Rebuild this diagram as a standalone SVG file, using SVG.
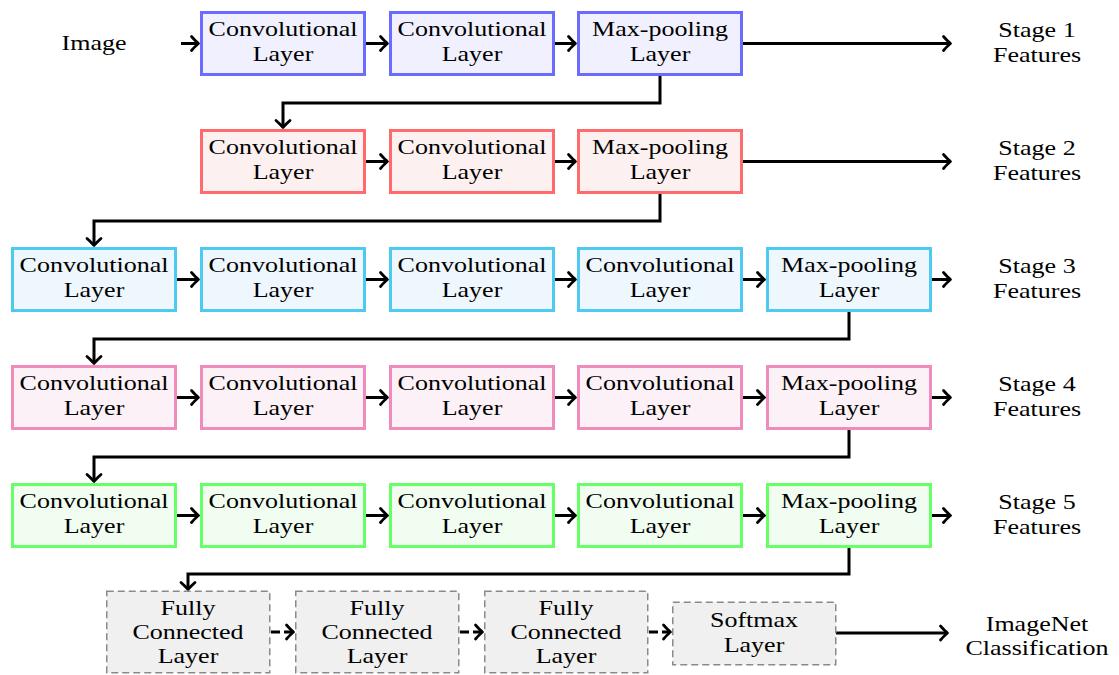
<svg xmlns="http://www.w3.org/2000/svg" width="1119" height="675" viewBox="0 0 1119 675">
<style>
.t{font-family:"Liberation Serif","Times New Roman",serif;font-size:21.5px;fill:#000;text-anchor:middle}
.b1{fill:#f0f0ff;stroke:#6b6bff;stroke-width:3}
.b2{fill:#fdf0f0;stroke:#ff6b6b;stroke-width:3}
.b3{fill:#eef7fd;stroke:#4ec9f2;stroke-width:3}
.b4{fill:#fcf1f6;stroke:#f08cbc;stroke-width:3}
.b5{fill:#f1fdf1;stroke:#66ff66;stroke-width:3}
.b6{fill:#f0f0f0;stroke:#8a8a8a;stroke-width:1.5;stroke-dasharray:7 4}
.c{fill:none;stroke:#000;stroke-width:3;marker-end:url(#ah)}
.cd{fill:none;stroke:#000;stroke-width:3;stroke-dasharray:9 4;marker-end:url(#ah)}
</style>
<defs>
<marker id="ah" markerUnits="userSpaceOnUse" viewBox="-10 -10 12 20" refX="0" refY="0" markerWidth="12" markerHeight="20" orient="auto" overflow="visible">
<path d="M-6.5,-7 Q-1.5,-1.5 0.5,0 Q-1.5,1.5 -6.5,7" fill="none" stroke="#000" stroke-width="2.8" stroke-linecap="round" stroke-linejoin="round"/>
</marker>
</defs>
<rect width="1119" height="675" fill="#fff"/>

<g id="connectors">
<path class="c" d="M181 43.5H198"/>
<path class="c" d="M366 43.5H387"/>
<path class="c" d="M555 43.5H575"/>
<path class="c" d="M743 43.5H950"/>
<path class="c" d="M660 76V103H283V127"/>
<path class="c" d="M366 161.5H387"/>
<path class="c" d="M555 161.5H575"/>
<path class="c" d="M743 161.5H950"/>
<path class="c" d="M660 194V221H94V245"/>
<path class="c" d="M177 279.5H198"/>
<path class="c" d="M366 279.5H387"/>
<path class="c" d="M555 279.5H575"/>
<path class="c" d="M743 279.5H764"/>
<path class="c" d="M932 279.5H950"/>
<path class="c" d="M849 312V339H94V363"/>
<path class="c" d="M177 397.5H198"/>
<path class="c" d="M366 397.5H387"/>
<path class="c" d="M555 397.5H575"/>
<path class="c" d="M743 397.5H764"/>
<path class="c" d="M932 397.5H950"/>
<path class="c" d="M849 430V457H94V481"/>
<path class="c" d="M177 515.5H198"/>
<path class="c" d="M366 515.5H387"/>
<path class="c" d="M555 515.5H575"/>
<path class="c" d="M743 515.5H764"/>
<path class="c" d="M932 515.5H950"/>
<path class="c" d="M849 548V574H188V589"/>
<path class="cd" d="M271 632H293"/>
<path class="cd" d="M460 632H482"/>
<path class="cd" d="M649 632H670"/>
<path class="c" d="M836 633H947"/>
</g>

<g id="image"><text class="t" transform="translate(94 0) scale(1.21 1)"><tspan x="0" y="50">Image</tspan></text></g>

<g id="r1c1"><rect class="b1" x="201.5" y="12.5" width="163" height="62"/><text class="t" transform="translate(283 0) scale(1.21 1)"><tspan x="0" y="36">Convolutional</tspan><tspan x="0" y="61">Layer</tspan></text></g>
<g id="r1c2"><rect class="b1" x="390.5" y="12.5" width="163" height="62"/><text class="t" transform="translate(472 0) scale(1.21 1)"><tspan x="0" y="36">Convolutional</tspan><tspan x="0" y="61">Layer</tspan></text></g>
<g id="r1c3"><rect class="b1" x="578.5" y="12.5" width="163" height="62"/><text class="t" transform="translate(660 0) scale(1.21 1)"><tspan x="0" y="36">Max-pooling</tspan><tspan x="0" y="61">Layer</tspan></text></g>
<g id="stage1"><text class="t" transform="translate(1037 0) scale(1.21 1)"><tspan x="0" y="37">Stage 1</tspan><tspan x="0" y="62">Features</tspan></text></g>

<g id="r2c1"><rect class="b2" x="201.5" y="130.5" width="163" height="62"/><text class="t" transform="translate(283 0) scale(1.21 1)"><tspan x="0" y="154">Convolutional</tspan><tspan x="0" y="179">Layer</tspan></text></g>
<g id="r2c2"><rect class="b2" x="390.5" y="130.5" width="163" height="62"/><text class="t" transform="translate(472 0) scale(1.21 1)"><tspan x="0" y="154">Convolutional</tspan><tspan x="0" y="179">Layer</tspan></text></g>
<g id="r2c3"><rect class="b2" x="578.5" y="130.5" width="163" height="62"/><text class="t" transform="translate(660 0) scale(1.21 1)"><tspan x="0" y="154">Max-pooling</tspan><tspan x="0" y="179">Layer</tspan></text></g>
<g id="stage2"><text class="t" transform="translate(1037 0) scale(1.21 1)"><tspan x="0" y="155">Stage 2</tspan><tspan x="0" y="180">Features</tspan></text></g>

<g id="r3c0"><rect class="b3" x="12.5" y="248.5" width="163" height="62"/><text class="t" transform="translate(94 0) scale(1.21 1)"><tspan x="0" y="272">Convolutional</tspan><tspan x="0" y="297">Layer</tspan></text></g>
<g id="r3c1"><rect class="b3" x="201.5" y="248.5" width="163" height="62"/><text class="t" transform="translate(283 0) scale(1.21 1)"><tspan x="0" y="272">Convolutional</tspan><tspan x="0" y="297">Layer</tspan></text></g>
<g id="r3c2"><rect class="b3" x="390.5" y="248.5" width="163" height="62"/><text class="t" transform="translate(472 0) scale(1.21 1)"><tspan x="0" y="272">Convolutional</tspan><tspan x="0" y="297">Layer</tspan></text></g>
<g id="r3c3"><rect class="b3" x="578.5" y="248.5" width="163" height="62"/><text class="t" transform="translate(660 0) scale(1.21 1)"><tspan x="0" y="272">Convolutional</tspan><tspan x="0" y="297">Layer</tspan></text></g>
<g id="r3c4"><rect class="b3" x="767.5" y="248.5" width="163" height="62"/><text class="t" transform="translate(849 0) scale(1.21 1)"><tspan x="0" y="272">Max-pooling</tspan><tspan x="0" y="297">Layer</tspan></text></g>
<g id="stage3"><text class="t" transform="translate(1037 0) scale(1.21 1)"><tspan x="0" y="273">Stage 3</tspan><tspan x="0" y="298">Features</tspan></text></g>

<g id="r4c0"><rect class="b4" x="12.5" y="366.5" width="163" height="62"/><text class="t" transform="translate(94 0) scale(1.21 1)"><tspan x="0" y="390">Convolutional</tspan><tspan x="0" y="415">Layer</tspan></text></g>
<g id="r4c1"><rect class="b4" x="201.5" y="366.5" width="163" height="62"/><text class="t" transform="translate(283 0) scale(1.21 1)"><tspan x="0" y="390">Convolutional</tspan><tspan x="0" y="415">Layer</tspan></text></g>
<g id="r4c2"><rect class="b4" x="390.5" y="366.5" width="163" height="62"/><text class="t" transform="translate(472 0) scale(1.21 1)"><tspan x="0" y="390">Convolutional</tspan><tspan x="0" y="415">Layer</tspan></text></g>
<g id="r4c3"><rect class="b4" x="578.5" y="366.5" width="163" height="62"/><text class="t" transform="translate(660 0) scale(1.21 1)"><tspan x="0" y="390">Convolutional</tspan><tspan x="0" y="415">Layer</tspan></text></g>
<g id="r4c4"><rect class="b4" x="767.5" y="366.5" width="163" height="62"/><text class="t" transform="translate(849 0) scale(1.21 1)"><tspan x="0" y="390">Max-pooling</tspan><tspan x="0" y="415">Layer</tspan></text></g>
<g id="stage4"><text class="t" transform="translate(1037 0) scale(1.21 1)"><tspan x="0" y="391">Stage 4</tspan><tspan x="0" y="416">Features</tspan></text></g>

<g id="r5c0"><rect class="b5" x="12.5" y="484.5" width="163" height="62"/><text class="t" transform="translate(94 0) scale(1.21 1)"><tspan x="0" y="508">Convolutional</tspan><tspan x="0" y="533">Layer</tspan></text></g>
<g id="r5c1"><rect class="b5" x="201.5" y="484.5" width="163" height="62"/><text class="t" transform="translate(283 0) scale(1.21 1)"><tspan x="0" y="508">Convolutional</tspan><tspan x="0" y="533">Layer</tspan></text></g>
<g id="r5c2"><rect class="b5" x="390.5" y="484.5" width="163" height="62"/><text class="t" transform="translate(472 0) scale(1.21 1)"><tspan x="0" y="508">Convolutional</tspan><tspan x="0" y="533">Layer</tspan></text></g>
<g id="r5c3"><rect class="b5" x="578.5" y="484.5" width="163" height="62"/><text class="t" transform="translate(660 0) scale(1.21 1)"><tspan x="0" y="508">Convolutional</tspan><tspan x="0" y="533">Layer</tspan></text></g>
<g id="r5c4"><rect class="b5" x="767.5" y="484.5" width="163" height="62"/><text class="t" transform="translate(849 0) scale(1.21 1)"><tspan x="0" y="508">Max-pooling</tspan><tspan x="0" y="533">Layer</tspan></text></g>
<g id="stage5"><text class="t" transform="translate(1037 0) scale(1.21 1)"><tspan x="0" y="509">Stage 5</tspan><tspan x="0" y="534">Features</tspan></text></g>

<g id="fc1"><rect class="b6" x="106.75" y="591.25" width="163" height="81.5"/><text class="t" transform="translate(188 0) scale(1.21 1)"><tspan x="0" y="615">Fully</tspan><tspan x="0" y="639">Connected</tspan><tspan x="0" y="663">Layer</tspan></text></g>
<g id="fc2"><rect class="b6" x="295.75" y="591.25" width="163" height="81.5"/><text class="t" transform="translate(377 0) scale(1.21 1)"><tspan x="0" y="615">Fully</tspan><tspan x="0" y="639">Connected</tspan><tspan x="0" y="663">Layer</tspan></text></g>
<g id="fc3"><rect class="b6" x="484.75" y="591.25" width="163" height="81.5"/><text class="t" transform="translate(566 0) scale(1.21 1)"><tspan x="0" y="615">Fully</tspan><tspan x="0" y="639">Connected</tspan><tspan x="0" y="663">Layer</tspan></text></g>
<g id="softmax"><rect class="b6" x="672.75" y="602.25" width="163" height="62.5"/><text class="t" transform="translate(754 0) scale(1.21 1)"><tspan x="0" y="627">Softmax</tspan><tspan x="0" y="652">Layer</tspan></text></g>
<g id="imagenet"><text class="t" transform="translate(1037 0) scale(1.21 1)"><tspan x="0" y="631">ImageNet</tspan><tspan x="0" y="655">Classification</tspan></text></g>
</svg>
